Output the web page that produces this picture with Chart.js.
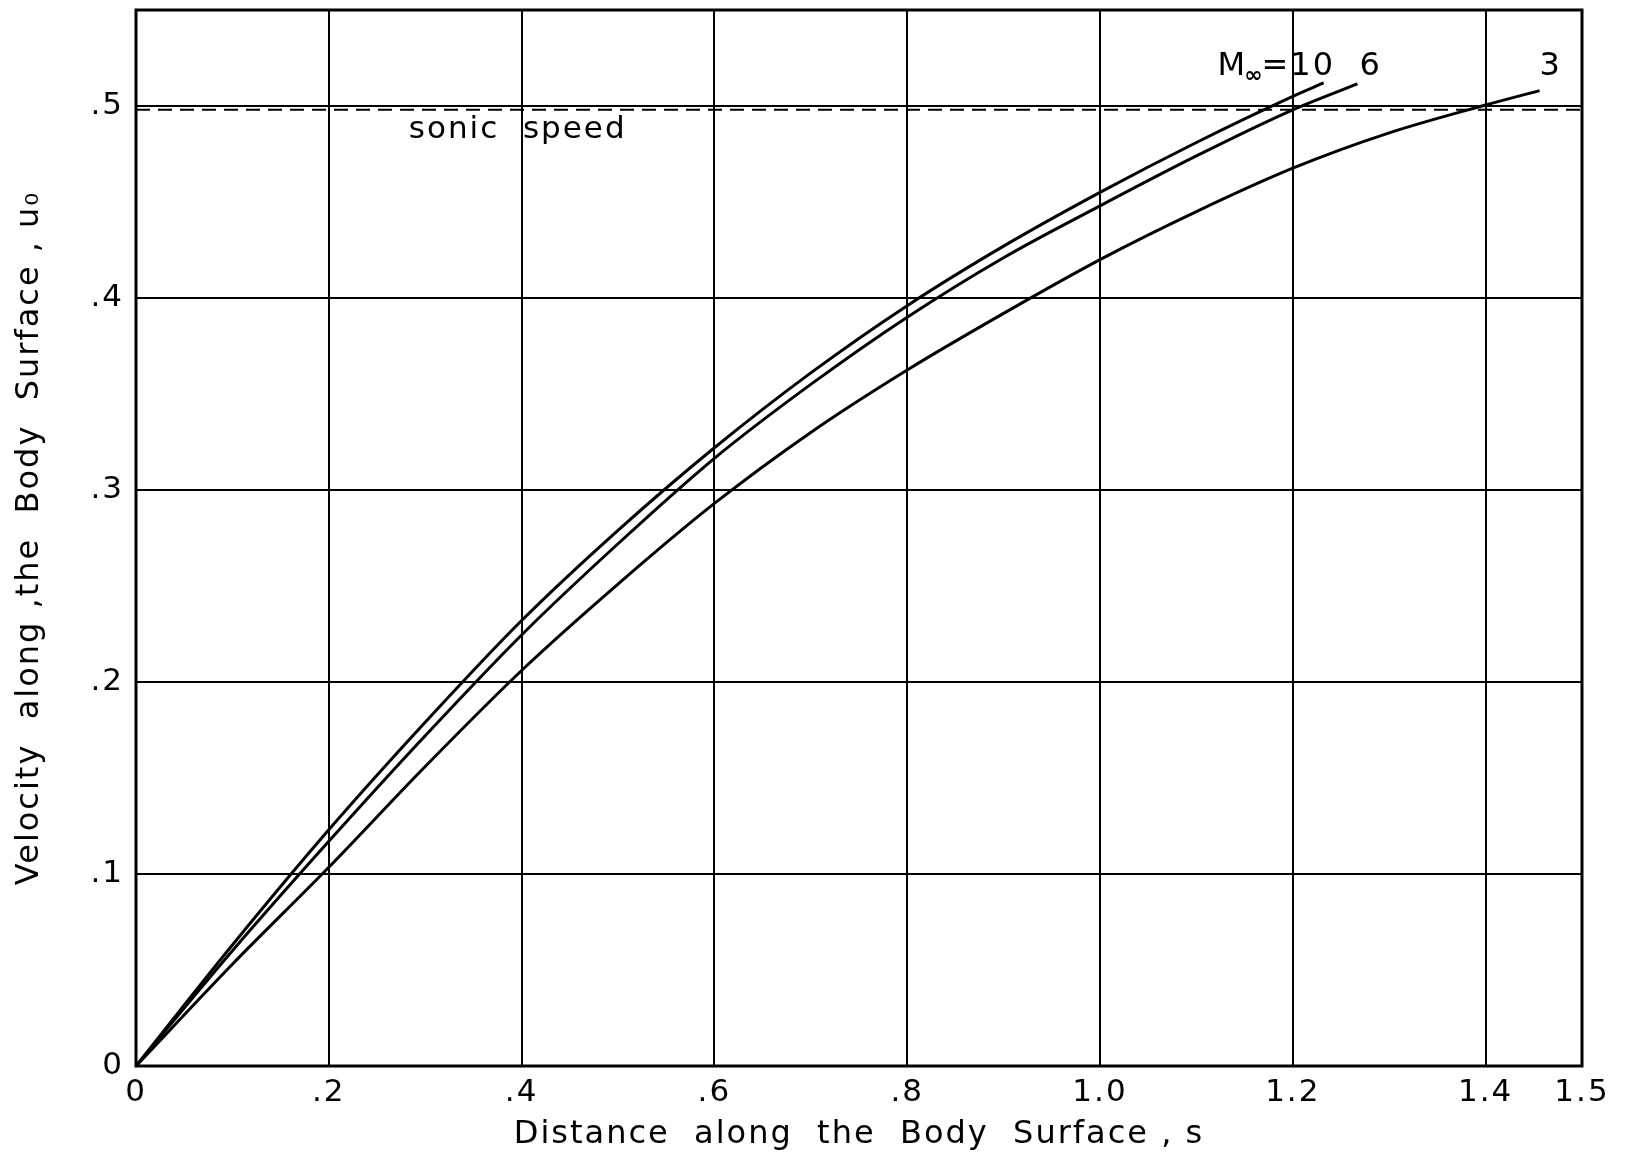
<!DOCTYPE html>
<html>
<head>
<meta charset="utf-8">
<script src="https://cdn.jsdelivr.net/npm/chart.js@4.4.1/dist/chart.umd.min.js"></script>
<style>
  html, body { margin: 0; padding: 0; background: #fff; }
  #wrap { width: 1627px; height: 1154px; }
</style>
</head>
<body>
<div id="wrap"><canvas id="chart" width="1627" height="1154"></canvas></div>
<script>
// values: distance s and velocity u0 for each Mach number
const s10 = [0, 0.1, 0.2, 0.3, 0.4, 0.5, 0.6, 0.7, 0.8, 0.9, 1.0, 1.1, 1.2, 1.232];
const u10 = [0, 0.063, 0.123, 0.179, 0.232, 0.279, 0.322, 0.361, 0.396, 0.427, 0.455, 0.481, 0.505, 0.512];

const s6 = [0, 0.1, 0.2, 0.3, 0.4, 0.5, 0.6, 0.7, 0.8, 0.9, 1.0, 1.1, 1.2, 1.267];
const u6 = [0, 0.060, 0.117, 0.172, 0.2245, 0.272, 0.3165, 0.355, 0.390, 0.421, 0.448, 0.474, 0.498, 0.5115];

const s3 = [0, 0.1, 0.2, 0.3, 0.4, 0.5, 0.6, 0.7, 0.8, 0.9, 1.0, 1.1, 1.2, 1.3, 1.4, 1.456];
const u3 = [0, 0.053, 0.1035, 0.156, 0.206, 0.251, 0.293, 0.330, 0.3625, 0.392, 0.420, 0.445, 0.4676, 0.486, 0.5005, 0.508];

const sonicS = [0, 1.5];
const sonicU = [0.498, 0.498];

const xTicks = [0, 0.2, 0.4, 0.6, 0.8, 1.0, 1.2, 1.4, 1.5];
const xTickLabels = ['0', '.2', '.4', '.6', '.8', '1.0', '1.2', '1.4', '1.5'];
const yTicks = [0, 0.1, 0.2, 0.3, 0.4, 0.5];
const yTickLabels = ['0', '.1', '.2', '.3', '.4', '.5'];

const toPts = (xs, ys) => xs.map((x, i) => ({ x: x, y: ys[i] }));

const FONT = "'DejaVu Sans', sans-serif";

const curve = (label, xs, ys) => ({
  label: label,
  data: toPts(xs, ys),
  borderColor: '#000',
  borderWidth: 3,
  pointRadius: 0,
  cubicInterpolationMode: 'monotone',
  fill: false,
});

// wider lettering, like the stencil text of the original
const spacing = {
  id: 'spacing',
  beforeDraw(chart) { chart.ctx.letterSpacing = '2px'; },
  afterDraw(chart) { chart.ctx.letterSpacing = '0px'; },
};

// frame + hand lettering on the plot
const notes = {
  id: 'notes',
  afterDatasetsDraw(chart) {
    const { ctx, chartArea: a, scales: { x, y } } = chart;
    ctx.save();
    ctx.strokeStyle = '#000';
    ctx.lineWidth = 3;
    ctx.strokeRect(a.left, a.top, a.right - a.left, a.bottom - a.top);

    ctx.fillStyle = '#000';
    ctx.textBaseline = 'middle';
    ctx.font = '31px ' + FONT;
    ctx.fillText('sonic  speed', x.getPixelForValue(0.283), y.getPixelForValue(0.4875));

    // M∞ = 10  6
    let px = x.getPixelForValue(1.122);
    const py = y.getPixelForValue(0.5205);
    ctx.font = '32px ' + FONT;
    ctx.fillText('M', px, py);
    px += ctx.measureText('M').width;
    ctx.font = 'bold 22px ' + FONT;
    ctx.fillText('\u221e', px - 3, py + 10);
    px += ctx.measureText('\u221e').width - 6;
    ctx.font = '32px ' + FONT;
    ctx.fillText('=10  6', px, py);
    ctx.fillText('3', x.getPixelForValue(1.456), py);
    ctx.restore();
  }
};

new Chart(document.getElementById('chart'), {
  type: 'line',
  data: {
    datasets: [
      curve('M=10', s10, u10),
      curve('M=6', s6, u6),
      curve('M=3', s3, u3),
      {
        label: 'sonic speed',
        data: toPts(sonicS, sonicU),
        borderColor: '#000',
        borderWidth: 2,
        borderDash: [14, 8],
        pointRadius: 0,
        fill: false,
      },
    ],
  },
  options: {
    responsive: false,
    animation: false,
    layout: { padding: { top: 10, right: 45, left: 0, bottom: 0 } },
    plugins: { legend: { display: false }, tooltip: { enabled: false } },
    scales: {
      x: {
        type: 'linear',
        min: 0,
        max: 1.5,
        afterBuildTicks: (sc) => { sc.ticks = xTicks.map(v => ({ value: v })); },
        afterFit: (sc) => { sc.height = 88; sc.paddingLeft = 0; sc.paddingRight = 0; },
        grid: { color: '#000', lineWidth: 2, drawTicks: false },
        border: { display: false },
        ticks: {
          color: '#000',
          padding: 8,
          maxRotation: 0,
          autoSkip: false,
          font: { family: FONT, size: 31 },
          callback: (v) => xTickLabels[xTicks.indexOf(v)],
        },
        title: {
          display: true,
          text: 'Distance  along  the  Body  Surface , s',
          color: '#000',
          font: { family: FONT, size: 32 },
          padding: { top: 0, bottom: 0 },
        },
      },
      y: {
        type: 'linear',
        min: 0,
        max: 0.55,
        afterBuildTicks: (sc) => { sc.ticks = yTicks.map(v => ({ value: v })); },
        afterFit: (sc) => { sc.width = 136; sc.paddingTop = 0; sc.paddingBottom = 0; },
        grid: { color: '#000', lineWidth: 2, drawTicks: false },
        border: { display: false },
        ticks: {
          color: '#000',
          padding: 12,
          autoSkip: false,
          font: { family: FONT, size: 31 },
          callback: (v) => yTickLabels[yTicks.indexOf(v)],
        },
        title: {
          display: true,
          text: 'Velocity  along ,the  Body  Surface , u\u2080',
          color: '#000',
          font: { family: FONT, size: 32 },
          padding: { top: 10, bottom: 0 },
        },
      },
    },
  },
  plugins: [spacing, notes],
});
</script>
</body>
</html>
